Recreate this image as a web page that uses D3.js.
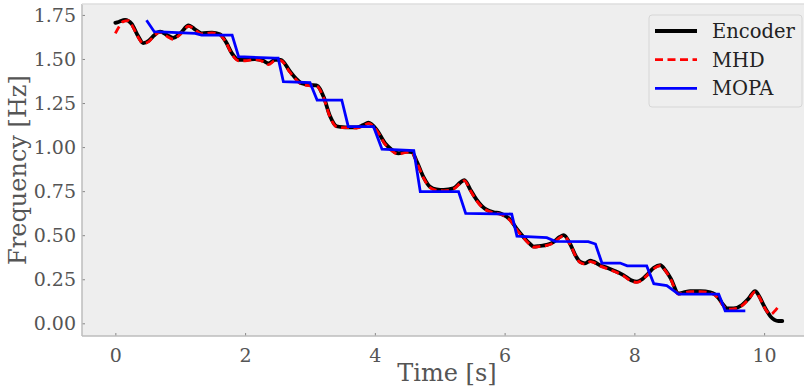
<!DOCTYPE html>
<html>
<head>
<meta charset="utf-8">
<script src="https://cdn.jsdelivr.net/npm/d3@7"></script>
<style>
  html, body { margin: 0; padding: 0; background: #ffffff; }
  svg { display: block; }
</style>
</head>
<body>
<svg id="chart" width="804" height="387"></svg>
<script>
// ---------- data ----------
const encoderT = [0.0,0.05,0.15,0.25,0.35,0.43,0.52,0.60,0.69,0.80,0.89,1.0,1.13,1.22,1.33,1.49,1.61,1.70,1.80,1.90,2.0,2.15,2.28,2.36,2.46,2.55,2.69,2.78,2.87,3.0,3.10,3.21,3.31,3.41,3.50,3.59,3.72,3.82,3.90,4.03,4.16,4.26,4.36,4.49,4.57,4.65,4.75,4.85,4.95,5.06,5.21,5.32,5.38,5.47,5.57,5.65,5.73,5.83,5.93,6.09,6.20,6.29,6.38,6.45,6.55,6.65,6.75,6.85,6.91,7.01,7.10,7.16,7.24,7.32,7.37,7.47,7.58,7.68,7.83,7.95,8.04,8.12,8.19,8.30,8.40,8.48,8.56,8.68,8.76,8.86,9.02,9.17,9.24,9.30,9.36,9.43,9.53,9.66,9.76,9.86,9.93,9.99,10.05,10.10,10.16,10.22,10.28];
const encoderF = [1.705,1.71,1.722,1.70,1.63,1.59,1.605,1.635,1.655,1.635,1.62,1.645,1.69,1.67,1.645,1.65,1.64,1.60,1.53,1.495,1.495,1.50,1.49,1.475,1.495,1.495,1.43,1.39,1.362,1.352,1.35,1.285,1.175,1.118,1.113,1.112,1.112,1.125,1.138,1.097,1.02,0.985,0.965,0.974,0.972,0.915,0.83,0.775,0.76,0.757,0.766,0.80,0.813,0.76,0.70,0.665,0.643,0.63,0.624,0.586,0.53,0.49,0.455,0.435,0.44,0.445,0.46,0.49,0.50,0.45,0.38,0.35,0.34,0.355,0.35,0.33,0.315,0.30,0.274,0.245,0.236,0.25,0.274,0.315,0.33,0.30,0.255,0.17,0.175,0.183,0.183,0.176,0.165,0.142,0.11,0.085,0.085,0.104,0.14,0.183,0.15,0.104,0.065,0.038,0.02,0.013,0.013];

const mhdT = [0.0,0.06,0.12,0.20,0.28,0.35,0.43,0.52,0.60,0.69,0.80,0.89,1.0,1.13,1.22,1.33,1.49,1.61,1.70,1.80,1.90,2.0,2.15,2.28,2.36,2.46,2.55,2.69,2.78,2.87,3.0,3.10,3.21,3.31,3.41,3.50,3.59,3.72,3.82,3.90,4.03,4.16,4.26,4.36,4.49,4.57,4.65,4.75,4.85,4.95,5.06,5.21,5.32,5.38,5.47,5.57,5.65,5.73,5.83,5.93,6.09,6.20,6.29,6.38,6.45,6.55,6.65,6.75,6.85,6.91,7.01,7.10,7.16,7.24,7.32,7.37,7.47,7.58,7.68,7.83,7.95,8.04,8.12,8.19,8.30,8.40,8.48,8.56,8.68,8.76,8.86,9.02,9.17,9.24,9.30,9.36,9.43,9.53,9.66,9.76,9.86,9.93,9.99,10.05,10.10,10.16,10.22];
const mhdF = [1.645,1.685,1.712,1.718,1.675,1.625,1.588,1.60,1.632,1.652,1.628,1.612,1.64,1.686,1.668,1.642,1.648,1.638,1.598,1.525,1.49,1.49,1.497,1.485,1.468,1.49,1.49,1.425,1.385,1.356,1.348,1.346,1.28,1.17,1.115,1.11,1.11,1.108,1.12,1.135,1.094,1.015,0.98,0.96,0.97,0.968,0.91,0.825,0.77,0.755,0.752,0.762,0.796,0.81,0.755,0.695,0.66,0.64,0.626,0.62,0.582,0.525,0.486,0.45,0.432,0.436,0.442,0.456,0.486,0.497,0.447,0.377,0.346,0.336,0.35,0.346,0.326,0.31,0.296,0.27,0.24,0.232,0.246,0.27,0.31,0.327,0.297,0.25,0.166,0.172,0.18,0.18,0.172,0.16,0.138,0.105,0.08,0.082,0.1,0.136,0.178,0.146,0.1,0.064,0.05,0.068,0.095];

const mopaT = [0.48,0.60,1.23,1.33,1.80,1.90,2.46,2.51,2.59,3.00,3.11,3.49,3.59,3.98,4.11,4.60,4.70,5.29,5.40,6.11,6.19,6.65,6.78,7.29,7.40,7.50,7.78,7.89,8.19,8.30,8.50,8.68,9.30,9.40,9.71];
const mopaF = [1.72,1.655,1.645,1.635,1.635,1.513,1.505,1.505,1.371,1.366,1.267,1.267,1.116,1.116,0.988,0.98,0.747,0.747,0.624,0.62,0.495,0.486,0.465,0.463,0.45,0.342,0.342,0.326,0.326,0.225,0.214,0.166,0.166,0.071,0.071];

const xTicks = [0, 2, 4, 6, 8, 10];
const yTicks = [0.00, 0.25, 0.50, 0.75, 1.00, 1.25, 1.50, 1.75];
const seriesNames = ["Encoder", "MHD", "MOPA"];

// ---------- layout ----------
const svg = d3.select("#chart");
const plot = { left: 82, top: 4, right: 817, bottom: 336 };

const x = d3.scaleLinear().domain([-0.514, 10.815]).range([plot.left, plot.right]);
const y = d3.scaleLinear().domain([-0.072, 1.812]).range([plot.bottom, plot.top]);

const font = "'DejaVu Serif', serif";
const textColor = "#555555";

svg.append("defs").append("clipPath").attr("id", "clip")
  .append("rect").attr("x", plot.left).attr("y", plot.top)
  .attr("width", plot.right - plot.left).attr("height", plot.bottom - plot.top);

svg.append("rect")
  .attr("x", plot.left).attr("y", plot.top)
  .attr("width", plot.right - plot.left).attr("height", plot.bottom - plot.top)
  .attr("fill", "#eeeeee");

// axes
const xAxis = d3.axisBottom(x).tickValues(xTicks).tickFormat(d3.format("d")).tickSizeInner(-3).tickSizeOuter(0).tickPadding(8);
const yAxis = d3.axisLeft(y).tickValues(yTicks).tickFormat(d3.format(".2f")).tickSizeInner(-3).tickSizeOuter(0).tickPadding(6);

const gx = svg.append("g").attr("transform", `translate(0,${plot.bottom})`).call(xAxis);
const gy = svg.append("g").attr("transform", `translate(${plot.left},0)`).call(yAxis);
[gx, gy].forEach(g => {
  g.select(".domain").remove();
  g.selectAll(".tick line").attr("stroke", "#888888").attr("stroke-width", 1);
  g.selectAll(".tick text").attr("fill", textColor).style("font-family", font).style("font-size", "19px");
});
gx.selectAll(".tick text").attr("dy", "0.95em");

// spines
svg.append("line").attr("x1", plot.left).attr("x2", plot.left).attr("y1", plot.top).attr("y2", plot.bottom)
  .attr("stroke", "#bcbcbc").attr("stroke-width", 1.5);
svg.append("line").attr("x1", plot.left).attr("x2", plot.right).attr("y1", plot.bottom).attr("y2", plot.bottom)
  .attr("stroke", "#bcbcbc").attr("stroke-width", 1.5);
svg.append("line").attr("x1", plot.left).attr("x2", plot.right).attr("y1", plot.top).attr("y2", plot.top)
  .attr("stroke", "#dedede").attr("stroke-width", 1.5);

// labels
svg.append("text").attr("x", 447).attr("y", 381)
  .attr("text-anchor", "middle").attr("fill", textColor)
  .style("font-family", font).style("font-size", "24px").text("Time [s]");
svg.append("text").attr("transform", `translate(26,${(plot.top + plot.bottom) / 2}) rotate(-90)`)
  .attr("text-anchor", "middle").attr("fill", textColor)
  .style("font-family", font).style("font-size", "24px").text("Frequency [Hz]");

// lines
const line = d3.line().x(d => x(d[0])).y(d => y(d[1]));
const smooth = d3.line().curve(d3.curveMonotoneX).x(d => x(d[0])).y(d => y(d[1]));
const g = svg.append("g").attr("clip-path", "url(#clip)");
const enc = encoderT.map((t, i) => [t, encoderF[i]]);
const mhd = mhdT.map((t, i) => [t, mhdF[i]]);
const mopa = mopaT.map((t, i) => [t, mopaF[i]]);

const styles = [
  { color: "#000000", width: 3.8, dash: null },
  { color: "#ff0000", width: 2.8, dash: "8,4.5" },
  { color: "#0000ff", width: 2.8, dash: null }
];

g.append("path").datum(enc).attr("d", smooth)
  .attr("fill", "none").attr("stroke", styles[0].color).attr("stroke-width", styles[0].width)
  .attr("stroke-linejoin", "round").attr("stroke-linecap", "round");
g.append("path").datum(mhd).attr("d", smooth)
  .attr("fill", "none").attr("stroke", styles[1].color).attr("stroke-width", styles[1].width)
  .attr("stroke-dasharray", styles[1].dash);
g.append("path").datum(mopa).attr("d", line)
  .attr("fill", "none").attr("stroke", styles[2].color).attr("stroke-width", styles[2].width)
  .attr("stroke-linejoin", "miter");

// legend
const lg = svg.append("g");
lg.append("rect").attr("x", 649).attr("y", 15).attr("width", 153).attr("height", 92)
  .attr("rx", 3).attr("fill", "#eeeeee").attr("stroke", "#d6d6d6").attr("stroke-width", 1);
seriesNames.forEach((name, i) => {
  const cy = 31 + i * 28.7;
  lg.append("line").attr("x1", 655).attr("x2", 697).attr("y1", cy).attr("y2", cy)
    .attr("stroke", styles[i].color).attr("stroke-width", styles[i].width)
    .attr("stroke-dasharray", styles[i].dash);
  lg.append("text").attr("x", 712).attr("y", cy + 7).attr("fill", "#222222")
    .style("font-family", font).style("font-size", "19.5px").text(name);
});
</script>
</body>
</html>
